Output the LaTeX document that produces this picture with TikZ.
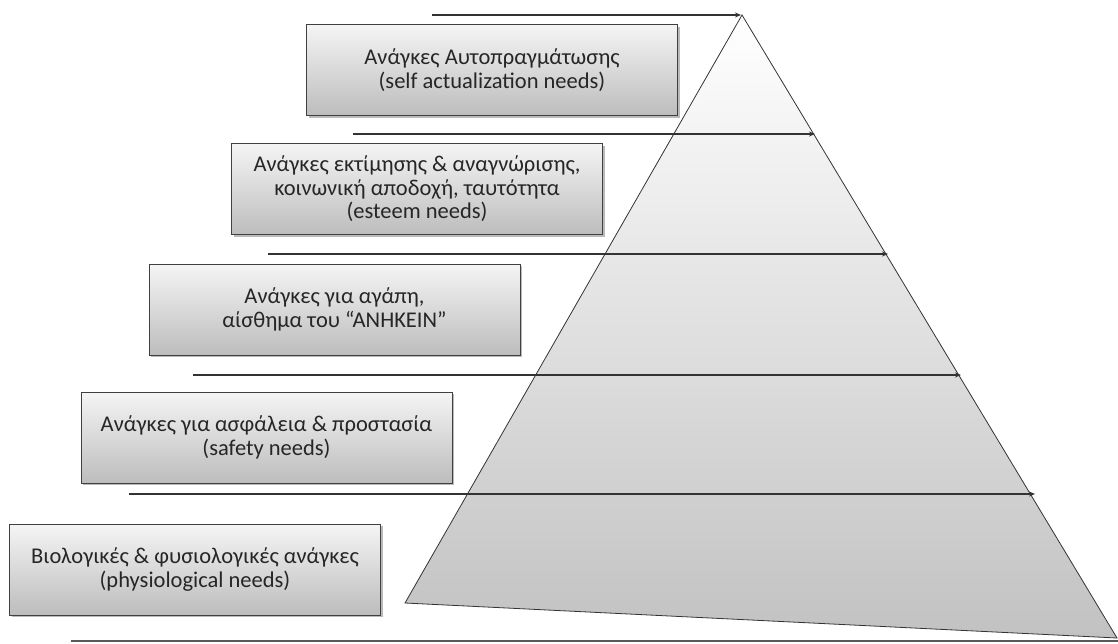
\documentclass[tikz,border=0pt]{standalone}
\usepackage{fontspec}
\setmainfont{Carlito}
\usetikzlibrary{arrows.meta,shadows}

\newcommand{\boxfont}{\fontsize{22.5}{23.5}\selectfont}

\tikzset{
  needbox/.style={draw=black!75, line width=0.8pt, top color=white!96!black, bottom color=black!26,
    minimum width=371pt, minimum height=91pt, align=center, text=black!85,
    font=\boxfont,
    drop shadow={shadow xshift=2pt, shadow yshift=-2pt, opacity=0.45, fill=black!60}},
  levelline/.style={-{Stealth[length=6pt,width=5pt]}, line width=1.1pt, black!80}
}

\begin{document}
\begin{tikzpicture}[x=1pt,y=-1pt]
\useasboundingbox (0,0) rectangle (1118,643);

% Pyramid
\coordinate (apex) at (742,15);
\coordinate (bl) at (405,603);
\coordinate (br) at (1117,638);
\path[top color=white, bottom color=black!24, draw=black!80, line width=0.8pt] (apex) -- (br) -- (bl) -- cycle;

% Ground line
\coordinate (g0) at (71,641);
\coordinate (g1) at (1118,641);
\draw[black!65, line width=2pt] (g0) -- (g1);

% Level lines (tail and tip on the pyramid edge)
\coordinate (s1) at (432,15);  \coordinate (e1) at (741,15);
\coordinate (s2) at (353,134); \coordinate (e2) at (815,134);
\coordinate (s3) at (268,254); \coordinate (e3) at (888,254);
\coordinate (s4) at (193,375); \coordinate (e4) at (961,375);
\coordinate (s5) at (129,494); \coordinate (e5) at (1035,494);
\draw[levelline] (s1) -- (e1);
\draw[levelline] (s2) -- (e2);
\draw[levelline] (s3) -- (e3);
\draw[levelline] (s4) -- (e4);
\draw[levelline] (s5) -- (e5);

% Needs boxes
\node[needbox] (selfact) at (492,70) {Ανάγκες Αυτοπραγμάτωσης\\(self actualization needs)};
\node[needbox] (esteem) at (417,189) {Ανάγκες εκτίμησης \& αναγνώρισης,\\κοινωνική αποδοχή, ταυτότητα\\(esteem needs)};
\node[needbox] (love) at (334.5,309.5) {Ανάγκες για αγάπη,\\αίσθημα του “ΑΝΗΚΕΙΝ”};
\node[needbox] (safety) at (266.5,437.5) {Ανάγκες για ασφάλεια \& προστασία\\(safety needs)};
\node[needbox] (physio) at (195,569.5) {Βιολογικές \& φυσιολογικές ανάγκες\\(physiological needs)};

\end{tikzpicture}
\end{document}
